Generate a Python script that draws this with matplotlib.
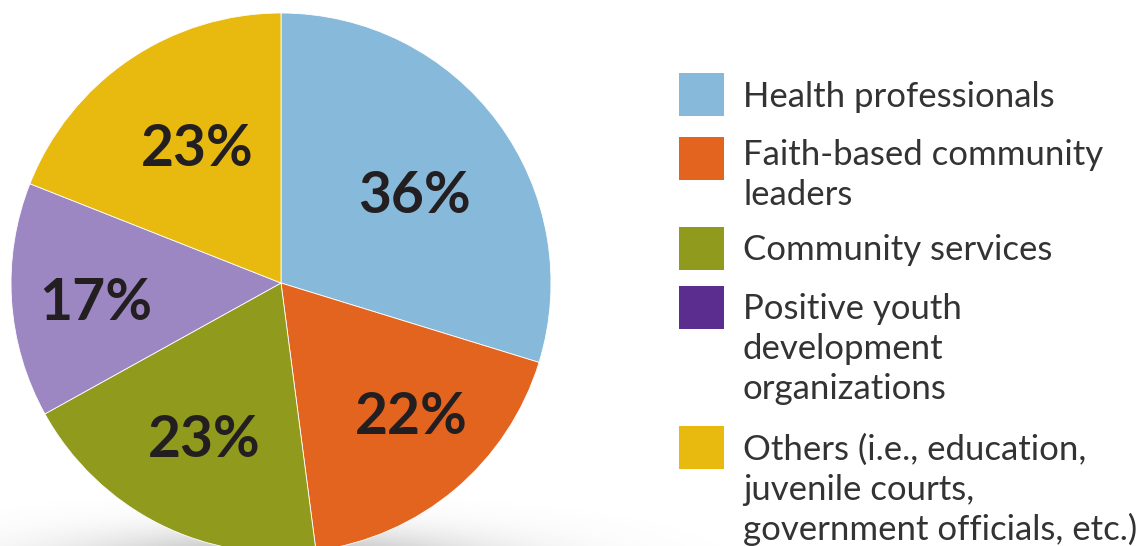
import matplotlib.pyplot as plt
from matplotlib.patches import Rectangle
import numpy as np

# Data
categories = ["Health professionals", "Faith-based community leaders", "Community services",
              "Positive youth development organizations",
              "Others (i.e., education, juvenile courts, government officials, etc.)"]
values = [36, 22, 23, 17, 23]
pct_labels = ["36%", "22%", "23%", "17%", "23%"]
legend_lines = [["Health professionals"],
                ["Faith-based community", "leaders"],
                ["Community services"],
                ["Positive youth", "development", "organizations"],
                ["Others (i.e., education,", "juvenile courts,", "government officials, etc.)"]]
pie_colors = ["#86B9DA", "#E2641F", "#909A1C", "#9D87C2", "#E8B90E"]
legend_colors = ["#86B9DA", "#E2641F", "#909A1C", "#5B2D8E", "#E8B90E"]
label_dist = [0.60, 0.68, 0.63, 0.69, 0.60]
label_turn = [-2, 5, 0, 1, -3]

W, H = 1144, 546
fig = plt.figure(figsize=(W / 100, H / 100), dpi=100)
fig.patch.set_facecolor("white")

# soft shadow under the pie
bg = fig.add_axes([0, 0, 1, 1])
bg.set_xlim(0, W)
bg.set_ylim(H, 0)
bg.axis("off")
xx, yy = np.meshgrid(np.arange(W), np.arange(H))
d = ((xx - 281) / 260.0) ** 2 + ((yy - 562) / 40.0) ** 2
alpha = 0.5 * np.exp(-d * 1.6)
shadow = np.zeros((H, W, 4))
shadow[..., 0:3] = 0.45
shadow[..., 3] = alpha
bg.imshow(shadow, extent=(0, W, H, 0), aspect="auto", zorder=0)

# pie
cx, cy, r = 281, 283, 270
ax = fig.add_axes([(cx - r) / W, (H - cy - r) / H, 2 * r / W, 2 * r / H])
wedges, _ = ax.pie(values, colors=pie_colors, startangle=90, counterclock=False,
                   radius=1, wedgeprops=dict(linewidth=0.6, edgecolor="white"))
ax.set_xlim(-1, 1)
ax.set_ylim(-1, 1)
ax.set_aspect("equal")
ax.axis("off")

for w, lab, dist, turn in zip(wedges, pct_labels, label_dist, label_turn):
    ang = np.radians((w.theta1 + w.theta2) / 2 + turn)
    ax.text(dist * np.cos(ang), dist * np.sin(ang) - 0.02, lab, ha="center", va="center",
            fontsize=41, fontweight="bold", color="#231F20", family="Lato")

# legend
box_tops = [73, 137, 227, 286, 426]
first_baselines = [107, 165, 260, 319, 460]
line_step = 40
for lines, col, top, base in zip(legend_lines, legend_colors, box_tops, first_baselines):
    fig.patches.append(Rectangle((679 / W, 1 - (top + 43) / H), 45 / W, 43 / H,
                                 transform=fig.transFigure, facecolor=col, edgecolor="none"))
    for i, ln in enumerate(lines):
        fig.text(743 / W, 1 - (base + i * line_step) / H, ln, ha="left", va="baseline",
                 fontsize=25, color="#333333", family="Lato")

fig.savefig("out.png", dpi=100)
